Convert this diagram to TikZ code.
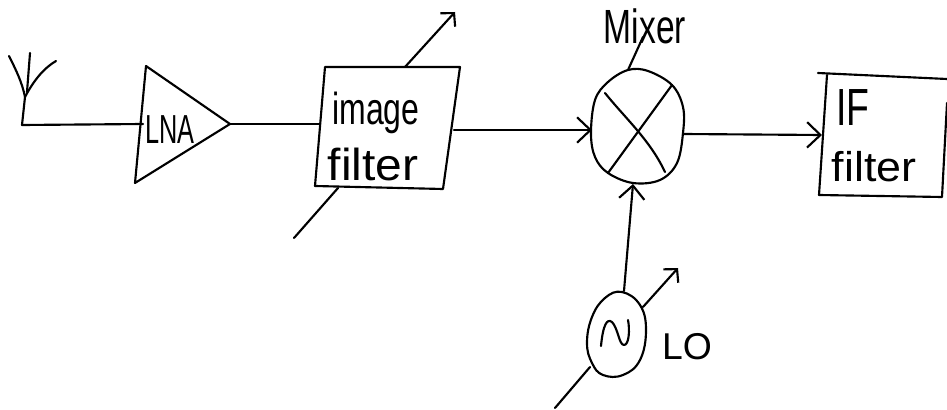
\documentclass[tikz,border=0pt]{standalone}
\usepackage{graphicx}
\usepackage{fontspec}
\setmainfont{Liberation Sans}
\usetikzlibrary{arrows.meta}
\tikzset{
  Wire/.style={line width=1.6pt},
  Feed/.style={Wire, -{Straight Barb[length=10pt,width=19pt,line width=1.6pt]}},
  Tune/.style={Wire, -{Straight Barb[length=7pt,width=15pt,line width=1.6pt]}},
  Label/.style={inner sep=0pt, align=center, font=\fontsize{24}{30}\selectfont}
}
\begin{document}
\begin{tikzpicture}[x=0.75pt, y=-0.75pt, line cap=round, line join=round]
  \useasboundingbox (0,0) rectangle (947,410);

  % antenna
  \coordinate (AntFoot) at (22,125);
  \coordinate (AntBase) at (25,97);
  \coordinate (AntL) at (9,56);
  \coordinate (AntM) at (30,53);
  \coordinate (AntR) at (56,61);
  \draw[Wire] (AntFoot)--(AntBase);
  \draw[Wire] (AntL) .. controls (16,70) and (22,82) .. (AntBase);
  \draw[Wire] (AntM)--(27,92);
  \draw[Wire] (AntR) .. controls (44,68) and (34,80) .. (AntBase);

  % LNA
  \coordinate (LnaA) at (146,66);
  \coordinate (LnaB) at (230,124);
  \coordinate (LnaC) at (135,183);
  \coordinate (LnaIn) at (143,124);
  \draw[Wire] (LnaA)--(LnaB)--(LnaC)--cycle;
  \node[Label, font=\fontsize{19}{22}\selectfont] (lna) at (170,130) {\scalebox{1}[1.6]{LNA}};

  % image filter
  \coordinate (ImgA) at (325,67);
  \coordinate (ImgB) at (460,67);
  \coordinate (ImgC) at (443,189);
  \coordinate (ImgD) at (315,186);
  \coordinate (ImgIn) at (319,124);
  \coordinate (ImgOut) at (454,130);
  \coordinate (ImgTop) at (405,67);
  \coordinate (ImgBot) at (338,188);
  \coordinate (ImgUp) at (455,12);
  \coordinate (ImgDown) at (294,238);
  \draw[Wire] (ImgA)--(ImgB)--(ImgC)--(ImgD)--cycle;
  \node[Label] (image) at (376,113) {\scalebox{1}[1.4]{image}};
  \node[Label] (filter) at (373,164) {\scalebox{1.5}[1.4]{filter}};
  \draw[Tune] (ImgTop)--(ImgUp);
  \draw[Wire] (ImgBot)--(ImgDown);

  % mixer
  \coordinate (MixIn) at (592,130);
  \coordinate (MixOut) at (683,134);
  \coordinate (MixTop) at (628,70);
  \coordinate (MixBot) at (633,184);
  \draw[Wire] plot[smooth cycle, tension=0.6] coordinates {(628,70) (648,71) (672,85) (683,107) (683,133)
    (677,163) (660,180) (633,183) (608,173) (595,157) (591,133) (595,100) (608,82)};
  \draw[Wire] (605,93) .. controls (625,118) and (650,140) .. (665,172);
  \draw[Wire] (672,85)--(608,173);
  \node[Label] (mixer) at (645,26) {\scalebox{1.05}[1.5]{Mixer}};
  \coordinate (MixTag) at (643,37);
  \draw[Wire] (MixTop)--(MixTag);

  % IF filter
  \coordinate (IfA) at (827,75);
  \coordinate (IfB) at (819,195);
  \coordinate (IfC) at (942,197);
  \coordinate (IfD) at (947,103);
  \coordinate (IfIn) at (822,135);
  \draw[Wire] (818,73)--(947,79);
  \draw[Wire] (IfA)--(IfB)--(IfC)--(IfD);
  \node[Label, font=\fontsize{28}{30}\selectfont] (ifname) at (853,108) {\scalebox{1}[1.4]{IF}};
  \node[Label] (iffilter) at (874,167) {\scalebox{1.4}[1.3]{filter}};

  % local oscillator
  \coordinate (OscTop) at (624,291);
  \coordinate (OscUp) at (643,307);
  \coordinate (OscDown) at (590,367);
  \coordinate (OscTune) at (678,268);
  \coordinate (OscFree) at (555,408);
  \draw[Wire] plot[smooth cycle, tension=0.7] coordinates {(622,292) (640,305) (646,330) (640,360) (623,375)
    (603,375) (592,363) (587,343) (592,317) (605,298)};
  \draw[Wire] (601,346) .. controls (603,325) and (607,318) .. (612,322)
    .. controls (618,328) and (619,345) .. (624,345)
    .. controls (629,345) and (630,330) .. (628,320);
  \draw[Tune] (OscUp)--(OscTune);
  \draw[Wire] (OscDown)--(OscFree);
  \node[Label, font=\fontsize{28}{30}\selectfont] (lo) at (687,347) {LO};

  % signal path
  \draw[Wire] (AntFoot)--(LnaIn);
  \draw[Wire] (LnaB)--(ImgIn);
  \draw[Feed] (ImgOut)--(MixIn);
  \draw[Feed] (MixOut)--(IfIn);
  \draw[Feed] (OscTop)--(MixBot);
\end{tikzpicture}
\end{document}
